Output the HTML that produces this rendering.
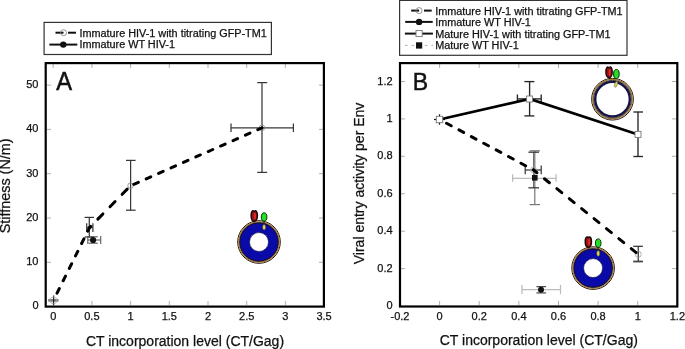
<!DOCTYPE html>
<html><head><meta charset="utf-8">
<style>
html,body{margin:0;padding:0;background:#fff;}
body{width:685px;height:349px;overflow:hidden;}
svg{display:block;font-family:"Liberation Sans",sans-serif;will-change:transform;}
.tk{font-size:11px;fill:#111;stroke:#111;stroke-width:0.25px;}
.lg{font-size:10.85px;fill:#111;stroke:#111;stroke-width:0.25px;}
.ax{font-size:14px;fill:#111;stroke:#111;stroke-width:0.25px;}
.pl{font-size:24px;fill:#111;}
</style></head>
<body>
<svg width="685" height="349" viewBox="0 0 685 349">

<!-- ================= PANEL A ================= -->
<!-- legend A -->
<rect x="44.1" y="22.4" width="227.3" height="32.1" fill="#fff" stroke="#333" stroke-width="1.2"/>
<line x1="55.5" y1="32.7" x2="63.5" y2="32.7" stroke="#111" stroke-width="2"/>
<line x1="68" y1="32.7" x2="76" y2="32.7" stroke="#111" stroke-width="2"/>
<circle cx="63.5" cy="32.7" r="3" fill="none" stroke="#888" stroke-width="0.9"/>
<line x1="49.4" y1="44.6" x2="77.3" y2="44.6" stroke="#111" stroke-width="2"/>
<circle cx="63.3" cy="44.6" r="3.2" fill="#111"/>
<text class="lg" x="79.4" y="36.6">Immature HIV-1 with titrating GFP-TM1</text>
<text class="lg" x="79.4" y="48.2">Immature WT HIV-1</text>

<!-- ticks A -->
<g stroke="#999" stroke-width="0.8">
  <line x1="53.2" y1="64" x2="53.2" y2="68"/><line x1="91.9" y1="64" x2="91.9" y2="68"/><line x1="130.6" y1="64" x2="130.6" y2="68"/>
  <line x1="169.3" y1="64" x2="169.3" y2="68"/><line x1="208" y1="64" x2="208" y2="68"/>
  <line x1="246.7" y1="64" x2="246.7" y2="68"/><line x1="285.4" y1="64" x2="285.4" y2="68"/>
  <line x1="53.2" y1="305" x2="53.2" y2="301"/>
  <line x1="91.9" y1="305" x2="91.9" y2="301"/><line x1="130.6" y1="305" x2="130.6" y2="301"/>
  <line x1="169.3" y1="305" x2="169.3" y2="301"/><line x1="208" y1="305" x2="208" y2="301"/>
  <line x1="246.7" y1="305" x2="246.7" y2="301"/><line x1="285.4" y1="305" x2="285.4" y2="301"/>
  <line x1="47" y1="262.3" x2="51" y2="262.3"/><line x1="47" y1="218" x2="51" y2="218"/>
  <line x1="47" y1="173.7" x2="51" y2="173.7"/><line x1="47" y1="129.4" x2="51" y2="129.4"/>
  <line x1="47" y1="85.1" x2="51" y2="85.1"/>
  <line x1="323" y1="262.3" x2="319" y2="262.3"/><line x1="323" y1="218" x2="319" y2="218"/>
  <line x1="323" y1="173.7" x2="319" y2="173.7"/><line x1="323" y1="129.4" x2="319" y2="129.4"/>
  <line x1="323" y1="85.1" x2="319" y2="85.1"/>
</g>
<!-- frame A -->
<rect x="45.7" y="63.1" width="278.2" height="243.5" fill="none" stroke="#000" stroke-width="2.2"/>

<!-- tick labels A -->
<g class="tk" text-anchor="end">
  <text x="38.5" y="309.4">0</text>
  <text x="38.5" y="265.1">10</text>
  <text x="38.5" y="220.8">20</text>
  <text x="38.5" y="176.5">30</text>
  <text x="38.5" y="132.2">40</text>
  <text x="38.5" y="87.9">50</text>
</g>
<g class="tk" text-anchor="middle">
  <text x="53.2" y="319.6">0</text>
  <text x="91.9" y="319.6">0.5</text>
  <text x="130.6" y="319.6">1</text>
  <text x="169.3" y="319.6">1.5</text>
  <text x="208" y="319.6">2</text>
  <text x="246.7" y="319.6">2.5</text>
  <text x="285.4" y="319.6">3</text>
  <text x="324.1" y="319.6">3.5</text>
</g>
<text class="pl" transform="translate(56.3,90.2) scale(0.95,1)" style="font-size:25px" stroke="#111" stroke-width="0.5">A</text>
<text class="ax" x="185" y="345.6" text-anchor="middle">CT incorporation level (CT/Gag)</text>
<text class="ax" style="font-size:14.4px" transform="translate(10.4,185.9) rotate(-90)" text-anchor="middle">Stiffness (N/m)</text>

<!-- data A -->
<g stroke="#383838" stroke-width="1.25" fill="none">
  <!-- p1 (0,1.5) -->
  <rect x="48.2" y="299" width="10.3" height="2.7" fill="#7a7a7a" stroke="none"/>
  <line x1="53.6" y1="295.4" x2="53.6" y2="305.5" stroke="#222" stroke-width="1.2"/>
  <circle cx="53.5" cy="300.4" r="3.4" stroke="#aaa" stroke-width="0.8"/>
  <!-- p2 (0.47,17.8) -->
  <line x1="89.3" y1="217.4" x2="89.3" y2="237.4"/>
  <line x1="84.6" y1="217.4" x2="94" y2="217.4"/>
  <line x1="84.6" y1="237" x2="94" y2="237"/>
  <line x1="86.7" y1="227.5" x2="92.9" y2="227.5"/>
  <line x1="86.7" y1="223.3" x2="86.7" y2="232"/><line x1="92.9" y1="223.3" x2="92.9" y2="232"/>
  <!-- p3 WT (0.514,15) -->
  <g stroke="#5a5a5a" stroke-width="1.1">
  <line x1="87.8" y1="240" x2="100.7" y2="240"/>
  <line x1="87.8" y1="236" x2="87.8" y2="244"/><line x1="100.7" y1="236" x2="100.7" y2="244"/>
  <line x1="88.4" y1="236.8" x2="97.8" y2="236.8"/><line x1="88.4" y1="243.2" x2="97.8" y2="243.2"/>
  </g>
  <!-- p4 (1,27.3) -->
  <line x1="130.6" y1="160.4" x2="130.6" y2="210.2"/>
  <line x1="126" y1="160.4" x2="135.6" y2="160.4"/>
  <line x1="126" y1="210.2" x2="135.6" y2="210.2"/>
  <circle cx="130.6" cy="185.7" r="2.8" stroke="#888" stroke-width="0.8"/>
  <!-- p5 (2.7,40.3) -->
  <line x1="262" y1="82.6" x2="262" y2="172.4"/>
  <line x1="257.2" y1="82.6" x2="267.2" y2="82.6"/>
  <line x1="257.2" y1="172.4" x2="267.2" y2="172.4"/>
  <line x1="231" y1="127.8" x2="293.4" y2="127.8"/>
  <line x1="231" y1="123.5" x2="231" y2="132"/><line x1="293.4" y1="123.5" x2="293.4" y2="132"/>
  <circle cx="262" cy="127.8" r="2.8" stroke="#888" stroke-width="0.8"/>
</g>
<circle cx="93.1" cy="240" r="3.1" fill="#111"/>
<!--DASHA-->
<g fill="none" stroke="#000" stroke-width="3" stroke-linecap="round">
<line x1="53.5" y1="300.3" x2="89.5" y2="227.6" stroke-dasharray="5.15 8.69" stroke-dashoffset="5.84"/>
<line x1="89.5" y1="227.6" x2="130.6" y2="185.7" stroke-dasharray="7.23 10.14" stroke-dashoffset="5.47"/>
<line x1="130.6" y1="185.7" x2="262" y2="127.8" stroke-dasharray="4.98 8.57" stroke-dashoffset="10.05"/>
</g>
<!--/DASHA-->

<g transform="translate(259,242)">
  <circle cx="0" cy="0" r="20" fill="#0a0aa8"/>
  <circle cx="0" cy="0" r="21.3" fill="none" stroke="#1e160c" stroke-width="1"/>
  <circle cx="0" cy="0" r="20.2" fill="none" stroke="#a87a38" stroke-width="1.3"/>
  <circle cx="0" cy="0" r="19.1" fill="none" stroke="#1a1410" stroke-width="0.9"/>
  <circle cx="0" cy="0" r="9.5" fill="#fff" stroke="#101040" stroke-width="0.6"/>
  <line x1="-4.75" y1="-21.5" x2="-4.75" y2="-19.5" stroke="#301010" stroke-width="1"/>
  <path d="M-4.75,-20.7 C-7.4,-20.9 -8,-24 -7.9,-27 C-7.8,-30.4 -6.6,-31.4 -5.6,-31.2 L-4.75,-30.4 L-3.9,-31.2 C-2.9,-31.4 -1.7,-30.4 -1.6,-27 C-1.5,-24 -2.1,-20.9 -4.75,-20.7 Z" fill="#8e1616" stroke="#1e0606" stroke-width="1.4"/>
  <ellipse cx="-4.1" cy="-26" rx="1.1" ry="3.6" fill="#dc2828"/>
  <line x1="5" y1="-21" x2="5" y2="-16.5" stroke="#202010" stroke-width="1"/>
  <ellipse cx="5.1" cy="-25" rx="2.8" ry="4.2" fill="#22dd22" stroke="#0e300e" stroke-width="1"/>
  <ellipse cx="5.1" cy="-14.7" rx="1.45" ry="2.8" fill="#e2da5a" stroke="#5a5418" stroke-width="0.5"/>
</g>

<!-- ================= PANEL B ================= -->
<rect x="399.6" y="0.4" width="227.4" height="54.9" fill="#fff" stroke="#333" stroke-width="1.2"/>
<line x1="411.2" y1="10.6" x2="419.1" y2="10.6" stroke="#111" stroke-width="2"/>
<line x1="424" y1="10.6" x2="431.7" y2="10.6" stroke="#111" stroke-width="2"/>
<circle cx="419.1" cy="10.6" r="3" fill="none" stroke="#888" stroke-width="0.9"/>
<line x1="405.2" y1="21.9" x2="432.7" y2="21.9" stroke="#111" stroke-width="2"/>
<circle cx="419.1" cy="21.9" r="3.2" fill="#111"/>
<line x1="404.9" y1="33.6" x2="432.9" y2="33.6" stroke="#111" stroke-width="2"/>
<rect x="416" y="30.5" width="6.2" height="6.1" fill="#fff" stroke="#777" stroke-width="0.9"/>
<line x1="405" y1="45.4" x2="433" y2="45.4" stroke="#999" stroke-width="0.8" stroke-dasharray="2.6 4"/>
<rect x="416" y="42.3" width="6.2" height="6.3" fill="#111"/>
<text class="lg" x="435.2" y="14.6">Immature HIV-1 with titrating GFP-TM1</text>
<text class="lg" x="435.2" y="26.2">Immature WT HIV-1</text>
<text class="lg" x="435.2" y="37.8">Mature HIV-1 with titrating GFP-TM1</text>
<text class="lg" x="435.2" y="49.4">Mature WT HIV-1</text>

<!-- ticks B -->
<g stroke="#999" stroke-width="0.8">
  <line x1="439.6" y1="64" x2="439.6" y2="68"/><line x1="479.2" y1="64" x2="479.2" y2="68"/>
  <line x1="518.9" y1="64" x2="518.9" y2="68"/><line x1="558.5" y1="64" x2="558.5" y2="68"/>
  <line x1="598.1" y1="64" x2="598.1" y2="68"/><line x1="637.7" y1="64" x2="637.7" y2="68"/>
  <line x1="439.6" y1="305" x2="439.6" y2="301"/><line x1="479.2" y1="305" x2="479.2" y2="301"/>
  <line x1="518.9" y1="305" x2="518.9" y2="301"/><line x1="558.5" y1="305" x2="558.5" y2="301"/>
  <line x1="598.1" y1="305" x2="598.1" y2="301"/><line x1="637.7" y1="305" x2="637.7" y2="301"/>
  <line x1="401" y1="268.6" x2="405" y2="268.6"/><line x1="401" y1="231.2" x2="405" y2="231.2"/>
  <line x1="401" y1="193.7" x2="405" y2="193.7"/><line x1="401" y1="156.3" x2="405" y2="156.3"/>
  <line x1="401" y1="118.9" x2="405" y2="118.9"/><line x1="401" y1="81.5" x2="405" y2="81.5"/>
  <line x1="676" y1="268.6" x2="672" y2="268.6"/><line x1="676" y1="231.2" x2="672" y2="231.2"/>
  <line x1="676" y1="193.7" x2="672" y2="193.7"/><line x1="676" y1="156.3" x2="672" y2="156.3"/>
  <line x1="676" y1="118.9" x2="672" y2="118.9"/><line x1="676" y1="81.5" x2="672" y2="81.5"/>
</g>
<rect x="400" y="63.1" width="277.3" height="243.4" fill="none" stroke="#000" stroke-width="2.2"/>

<g class="tk" text-anchor="end">
  <text x="392.6" y="309.1">0</text>
  <text x="392.6" y="271.7">0.2</text>
  <text x="392.6" y="234.3">0.4</text>
  <text x="392.6" y="196.8">0.6</text>
  <text x="392.6" y="159.4">0.8</text>
  <text x="392.6" y="122.0">1</text>
  <text x="392.6" y="84.6">1.2</text>
</g>
<g class="tk" text-anchor="middle">
  <text x="400" y="319.5">-0.2</text>
  <text x="439.6" y="319.5">0</text>
  <text x="479.2" y="319.5">0.2</text>
  <text x="518.9" y="319.5">0.4</text>
  <text x="558.5" y="319.5">0.6</text>
  <text x="598.1" y="319.5">0.8</text>
  <text x="637.7" y="319.5">1</text>
  <text x="677.4" y="319.5">1.2</text>
</g>
<text class="pl" transform="translate(412.8,89.8) scale(0.93,1)" style="font-size:24.8px" stroke="#111" stroke-width="0.5">B</text>
<text class="ax" x="538.8" y="344.5" text-anchor="middle">CT incorporation level (CT/Gag)</text>
<text class="ax" transform="translate(364,183.45) rotate(-90)" text-anchor="middle">Viral entry activity per Env</text>

<!-- data B -->
<g stroke="#383838" stroke-width="1.25" fill="none">
  <!-- mature WT (0.48,0.687) light gray horizontal -->
  <g stroke="#bbb">
    <line x1="512.6" y1="178.4" x2="556.1" y2="178.4"/>
    <line x1="512.6" y1="174.3" x2="512.6" y2="181.8"/><line x1="556.1" y1="174.3" x2="556.1" y2="181.8"/>
    <!-- immature WT horizontal -->
    <line x1="522" y1="289.7" x2="560.5" y2="289.7"/>
    <line x1="522" y1="284.9" x2="522" y2="294.1"/><line x1="560.5" y1="284.9" x2="560.5" y2="294.1"/>
  </g>
  <!-- mature WT vertical -->
  <g stroke="#777" stroke-width="1.2">
    <line x1="534.8" y1="150.8" x2="534.8" y2="204.6"/>
    <line x1="529.6" y1="150.8" x2="540" y2="150.8"/>
    <line x1="529.6" y1="204.6" x2="540" y2="204.6"/>
  </g>
  <!-- immature titrating (0.47,0.72) -->
  <line x1="533.6" y1="152.2" x2="533.6" y2="187.8" stroke="#666" stroke-width="1.1"/>
  <line x1="528.4" y1="152.2" x2="539" y2="152.2" stroke-width="1.3"/>
  <line x1="528.4" y1="187.8" x2="539" y2="187.8" stroke-width="1.3"/>
  <line x1="525.2" y1="170" x2="541.2" y2="170"/>
  <line x1="525.2" y1="165.6" x2="525.2" y2="174.2"/><line x1="541.2" y1="165.6" x2="541.2" y2="174.2"/>
  <circle cx="533.6" cy="170" r="3" stroke="#aaa" stroke-width="0.8"/>
  <!-- mature titrating p2 (0.454,1.107) -->
  <g stroke="#262626" stroke-width="1.35">
  <line x1="529.6" y1="81.6" x2="529.6" y2="115.9"/>
  <line x1="524.4" y1="81.6" x2="534.4" y2="81.6"/>
  <line x1="524.4" y1="115.9" x2="534.4" y2="115.9"/>
  <line x1="517.4" y1="98.9" x2="541.2" y2="98.9"/>
  <line x1="517.4" y1="94.5" x2="517.4" y2="103"/><line x1="541.2" y1="94.5" x2="541.2" y2="103"/>
  <!-- mature titrating p3 (1,0.917) -->
  <line x1="638" y1="112" x2="638" y2="156.5"/>
  <line x1="633.4" y1="112" x2="643" y2="112"/>
  <line x1="633.4" y1="156.5" x2="643" y2="156.5"/>
  </g>
  <!-- immature titrating (1,0.276) -->
  <line x1="638.3" y1="246.3" x2="638.3" y2="261.8" stroke="#333"/>
  <line x1="633.2" y1="246.3" x2="642.9" y2="246.3" stroke="#333"/>
  <line x1="633.2" y1="261.5" x2="642.9" y2="261.5" stroke="#444" stroke-width="1.8"/>
  <circle cx="638.3" cy="254.3" r="3" stroke="#999" stroke-width="0.8"/>
  <!-- immature WT small vertical caps -->
  <line x1="536.4" y1="286.6" x2="546.1" y2="286.6" stroke="#505050"/>
  <line x1="536.4" y1="292.9" x2="546.1" y2="292.9" stroke="#505050"/>
  <!-- (0,1) small errors -->
  <line x1="439.5" y1="114.3" x2="439.5" y2="124.7" stroke="#111" stroke-width="1.2"/>
  <line x1="434" y1="119.5" x2="445" y2="119.5" stroke="#111" stroke-width="1.2"/>
</g>
<polyline points="439.5,119.5 529.6,98.9 638,134.4" fill="none" stroke="#000" stroke-width="2.6"/>
<!--DASHB-->
<g fill="none" stroke="#000" stroke-width="3" stroke-linecap="round">
<line x1="439.5" y1="119.5" x2="533.6" y2="170.0" stroke-dasharray="5.28 8.79" stroke-dashoffset="6.07"/>
<line x1="533.6" y1="170.0" x2="638.3" y2="254.3" stroke-dasharray="6.37 9.55" stroke-dashoffset="2.02"/>
</g>
<!--/DASHB-->
<circle cx="541" cy="289.7" r="3" fill="#111"/>
<rect x="532" y="175" width="5.6" height="5.6" fill="#111"/>
<rect x="526.6" y="96" width="6" height="6" fill="#fff" stroke="#777" stroke-width="0.9"/>
<rect x="635" y="131.4" width="6" height="6" fill="#fff" stroke="#777" stroke-width="0.9"/>
<rect x="436.3" y="116.3" width="6.4" height="6.4" fill="#fff" stroke="#777" stroke-width="0.9"/>

<g transform="translate(612.5,99.2)">
  <circle cx="0" cy="0" r="20.85" fill="#fff" stroke="#1e160c" stroke-width="1"/>
  <circle cx="0" cy="0" r="19.75" fill="none" stroke="#a87a38" stroke-width="1.2"/>
  <circle cx="0" cy="0" r="18.8" fill="none" stroke="#1a1410" stroke-width="0.8"/>
  <circle cx="0" cy="0" r="17.3" fill="none" stroke="#151545" stroke-width="2.4"/>
  <line x1="-3.3" y1="-22" x2="-3.3" y2="-20" stroke="#301010" stroke-width="1"/>
  <path d="M-4.75,-20.7 C-7.4,-20.9 -8,-24 -7.9,-27 C-7.8,-30.4 -6.6,-31.4 -5.6,-31.2 L-4.75,-30.4 L-3.9,-31.2 C-2.9,-31.4 -1.7,-30.4 -1.6,-27 C-1.5,-24 -2.1,-20.9 -4.75,-20.7 Z" transform="translate(1.3,-0.9)" fill="#8e1616" stroke="#1e0606" stroke-width="1.4"/>
  <ellipse cx="-2.8" cy="-26.9" rx="1.1" ry="3.6" fill="#dc2828"/>
  <ellipse cx="3.9" cy="-25.2" rx="2.8" ry="4.6" fill="#22dd22" stroke="#0e300e" stroke-width="1"/>
  <ellipse cx="3.5" cy="-14.8" rx="1.4" ry="3" fill="#dcd468" stroke="#6a6420" stroke-width="0.5" transform="rotate(20 3.5 -14.8)"/>
</g>
<g transform="translate(593.1,268.1)">
  <circle cx="0" cy="0" r="20" fill="#0a0aa8"/>
  <circle cx="0" cy="0" r="21.3" fill="none" stroke="#1e160c" stroke-width="1"/>
  <circle cx="0" cy="0" r="20.2" fill="none" stroke="#a87a38" stroke-width="1.3"/>
  <circle cx="0" cy="0" r="19.1" fill="none" stroke="#1a1410" stroke-width="0.9"/>
  <circle cx="0" cy="0" r="9.5" fill="#fff" stroke="#101040" stroke-width="0.6"/>
  <line x1="-4.75" y1="-21.5" x2="-4.75" y2="-19.5" stroke="#301010" stroke-width="1"/>
  <path d="M-4.75,-20.7 C-7.4,-20.9 -8,-24 -7.9,-27 C-7.8,-30.4 -6.6,-31.4 -5.6,-31.2 L-4.75,-30.4 L-3.9,-31.2 C-2.9,-31.4 -1.7,-30.4 -1.6,-27 C-1.5,-24 -2.1,-20.9 -4.75,-20.7 Z" fill="#8e1616" stroke="#1e0606" stroke-width="1.4"/>
  <ellipse cx="-4.1" cy="-26" rx="1.1" ry="3.6" fill="#dc2828"/>
  <line x1="5" y1="-21" x2="5" y2="-16.5" stroke="#202010" stroke-width="1"/>
  <ellipse cx="5.1" cy="-25" rx="2.8" ry="4.2" fill="#22dd22" stroke="#0e300e" stroke-width="1"/>
  <ellipse cx="5.1" cy="-14.7" rx="1.45" ry="2.8" fill="#e2da5a" stroke="#5a5418" stroke-width="0.5"/>
</g>
</svg>
</body></html>
